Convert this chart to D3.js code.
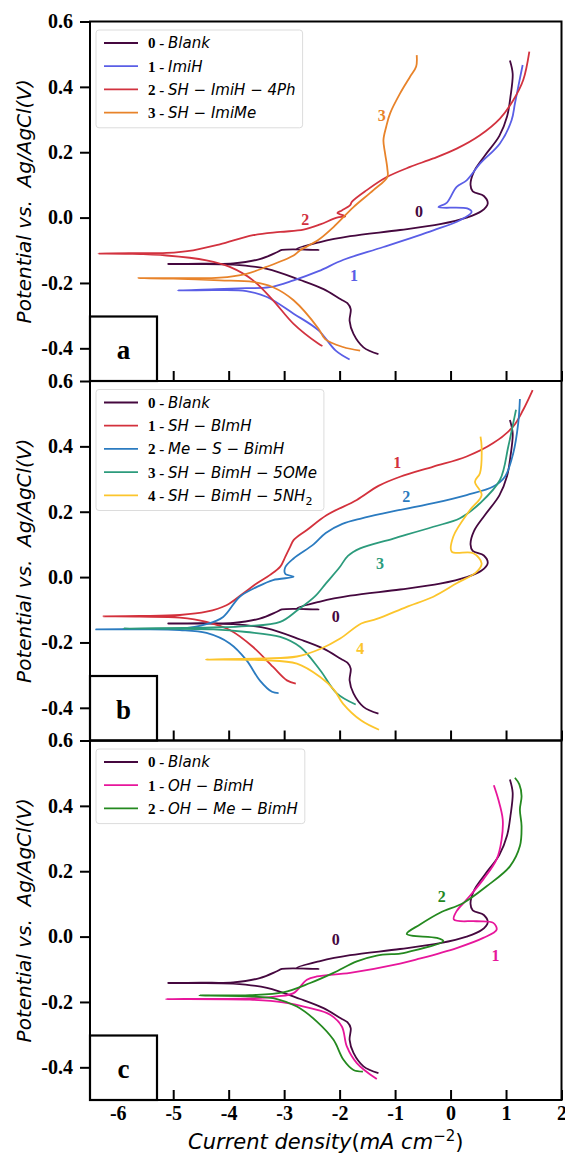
<!DOCTYPE html>
<html>
<head>
<meta charset="utf-8">
<script src="https://cdn.jsdelivr.net/npm/d3@7"></script>
<style>
  body { margin: 0; background: #fff; }
  svg { display: block; }
</style>
</head>
<body>
<script>
// axis ticks
const xTicks = [-6, -5, -4, -3, -2, -1, 0, 1, 2];
const yTicks = [-0.4, -0.2, 0, 0.2, 0.4, 0.6];

// blank curve (same in all three panels), [current density, potential]
const blankCurve = [
  [-1.30,-0.418],[-1.57,-0.397],[-1.75,-0.356],[-1.82,-0.316],[-1.80,-0.280],[-1.86,-0.262],
  [-1.98,-0.250],[-2.29,-0.219],[-2.71,-0.191],[-3.31,-0.157],[-3.92,-0.144],[-4.60,-0.142],
  [-5.09,-0.142],[-4.50,-0.141],[-3.92,-0.140],[-3.44,-0.127],[-3.13,-0.106],[-3.04,-0.099],
  [-2.38,-0.099],[-2.77,-0.096],[-2.35,-0.075],[-1.81,-0.057],[-0.91,-0.038],[-0.19,-0.020],
  [0.29,0.000],[0.56,0.020],[0.67,0.043],[0.60,0.066],[0.40,0.080],[0.36,0.100],[0.42,0.140],
  [0.62,0.190],[0.88,0.250],[1.02,0.310],[1.08,0.370],[1.12,0.440],[1.07,0.481]
];

// panel a
const imiHCurve = [
  [-1.82,-0.434],[-2.07,-0.407],[-2.38,-0.345],[-2.83,-0.294],[-3.31,-0.243],[-3.68,-0.225],
  [-4.22,-0.222],[-4.92,-0.223],[-4.22,-0.219],[-3.68,-0.216],[-3.26,-0.213],[-2.83,-0.192],
  [-2.38,-0.164],[-1.93,-0.129],[-1.21,-0.090],[-0.31,-0.039],[0.17,-0.008],[0.38,0.017],
  [0.30,0.028],[-0.22,0.032],[-0.07,0.045],[0.11,0.094],[0.29,0.114],[0.53,0.165],[0.89,0.227],
  [1.10,0.298],[1.16,0.349],[1.22,0.400],[1.30,0.467]
];
const shImiH4PhCurve = [
  [-2.31,-0.393],[-2.38,-0.386],[-2.83,-0.325],[-3.20,-0.253],[-3.56,-0.192],[-3.98,-0.151],
  [-4.40,-0.131],[-5.12,-0.116],[-5.80,-0.111],[-6.35,-0.110],[-5.80,-0.109],[-5.12,-0.108],
  [-4.64,-0.100],[-4.16,-0.082],[-3.56,-0.054],[-3.07,-0.044],[-2.65,-0.037],[-2.35,-0.021],
  [-2.05,0.000],[-1.90,0.004],[-2.04,0.014],[-1.96,0.022],[-1.81,0.038],[-1.78,0.048],
  [-1.51,0.084],[-1.15,0.124],[-0.73,0.155],[-0.31,0.181],[0.11,0.211],[0.53,0.252],
  [0.89,0.303],[1.13,0.359],[1.31,0.421],[1.42,0.508]
];
const shImiMeCurve = [
  [-1.63,-0.407],[-1.94,-0.396],[-2.26,-0.372],[-2.38,-0.340],[-2.83,-0.253],[-3.20,-0.213],
  [-3.56,-0.197],[-4.16,-0.192],[-5.00,-0.187],[-5.63,-0.185],[-5.00,-0.185],[-4.16,-0.184],
  [-3.68,-0.172],[-3.32,-0.151],[-2.83,-0.116],[-2.71,-0.100],[-2.38,-0.068],[-2.11,-0.029],
  [-1.75,0.032],[-1.39,0.084],[-1.14,0.124],[-1.14,0.150],[-1.18,0.196],[-1.21,0.237],
  [-1.16,0.278],[-1.09,0.319],[-0.91,0.380],[-0.73,0.431],[-0.62,0.462],[-0.61,0.497]
];

// panel b
const shBImHCurve = [
  [-2.79,-0.326],[-2.95,-0.316],[-3.20,-0.275],[-3.56,-0.214],[-3.98,-0.162],[-4.40,-0.137],
  [-4.88,-0.124],[-5.60,-0.121],[-6.26,-0.120],[-5.60,-0.119],[-4.88,-0.116],[-4.40,-0.106],
  [-4.04,-0.086],[-3.74,-0.050],[-3.49,-0.019],[-3.26,0.006],[-3.07,0.032],[-2.98,0.062],
  [-2.89,0.093],[-2.83,0.113],[-2.59,0.144],[-2.23,0.190],[-1.69,0.236],[-1.30,0.279],
  [-0.91,0.307],[-0.31,0.338],[0.29,0.369],[0.77,0.410],[1.13,0.461],[1.31,0.512],[1.48,0.572]
];
const meSBimHCurve = [
  [-3.10,-0.355],[-3.22,-0.351],[-3.44,-0.316],[-3.68,-0.254],[-3.98,-0.203],[-4.40,-0.171],
  [-4.88,-0.162],[-5.60,-0.160],[-6.39,-0.160],[-5.60,-0.159],[-4.88,-0.158],[-4.40,-0.144],
  [-4.10,-0.122],[-3.80,-0.060],[-3.49,-0.030],[-3.20,-0.009],[-2.83,0.001],[-2.98,0.010],
  [-2.98,0.030],[-2.83,0.057],[-2.47,0.100],[-2.25,0.135],[-1.95,0.163],[-1.60,0.180],
  [-1.21,0.195],[-0.31,0.226],[0.29,0.251],[0.77,0.277],[0.98,0.307],[1.13,0.379],
  [1.22,0.471],[1.25,0.545]
];
const shBimH5OMeCurve = [
  [-1.71,-0.390],[-2.05,-0.356],[-2.35,-0.285],[-2.71,-0.214],[-3.07,-0.183],[-3.68,-0.168],
  [-4.28,-0.160],[-5.90,-0.157],[-4.28,-0.154],[-3.68,-0.150],[-3.07,-0.137],[-2.75,-0.100],
  [-2.45,-0.060],[-2.25,-0.020],[-2.00,0.030],[-1.85,0.065],[-1.63,0.088],[-1.03,0.118],
  [-0.31,0.154],[0.17,0.180],[0.53,0.226],[0.89,0.297],[1.04,0.399],[1.13,0.471],[1.18,0.512]
];
const shBimH5NH2Curve = [
  [-1.29,-0.467],[-1.61,-0.439],[-1.94,-0.387],[-2.10,-0.345],[-2.35,-0.306],[-2.77,-0.265],
  [-3.38,-0.254],[-4.41,-0.252],[-3.38,-0.249],[-2.77,-0.243],[-2.35,-0.220],[-1.99,-0.188],
  [-1.61,-0.142],[-1.33,-0.128],[-0.79,-0.091],[-0.31,-0.060],[0.11,-0.019],[0.47,0.016],
  [0.56,0.042],[0.41,0.073],[0.02,0.078],[0.05,0.124],[0.35,0.205],[0.56,0.251],[0.44,0.292],
  [0.53,0.318],[0.56,0.399],[0.54,0.430]
];

// panel c
const ohBimHCurve = [
  [-1.33,-0.436],[-1.69,-0.387],[-1.87,-0.336],[-1.96,-0.275],[-2.17,-0.239],[-2.53,-0.219],
  [-3.02,-0.201],[-3.62,-0.193],[-5.13,-0.191],[-3.62,-0.189],[-3.13,-0.183],[-2.83,-0.173],
  [-2.59,-0.132],[-2.41,-0.122],[-1.81,-0.111],[-0.91,-0.083],[-0.61,-0.070],[0.11,-0.035],
  [0.59,-0.004],[0.83,0.021],[0.77,0.042],[0.47,0.047],[0.06,0.052],[0.11,0.078],[0.29,0.113],
  [0.59,0.175],[0.83,0.236],[0.92,0.297],[0.94,0.359],[0.86,0.420],[0.78,0.463]
];
const ohMeBimHCurve = [
  [-1.58,-0.413],[-1.75,-0.408],[-1.93,-0.377],[-2.11,-0.316],[-2.41,-0.260],[-2.77,-0.214],
  [-3.13,-0.191],[-3.62,-0.183],[-4.53,-0.180],[-3.62,-0.179],[-3.02,-0.171],[-2.53,-0.142],
  [-2.11,-0.111],[-1.69,-0.076],[-1.33,-0.058],[-0.91,-0.052],[-0.79,-0.048],[-0.13,-0.014],
  [-0.25,-0.004],[-0.79,0.008],[-0.55,0.037],[-0.19,0.073],[0.23,0.103],[0.65,0.154],
  [1.07,0.215],[1.25,0.277],[1.28,0.338],[1.25,0.389],[1.28,0.430],[1.24,0.466],[1.16,0.486]
];

// legend names ("_2" = subscript)
const panelANames = ["Blank", "ImiH", "SH − ImiH − 4Ph", "SH − ImiMe"];
const panelBNames = ["Blank", "SH − BImH", "Me − S − BimH", "SH − BimH − 5OMe", "SH − BimH − 5NH_2"];
const panelCNames = ["Blank", "OH − BimH", "OH − Me − BimH"];

// curve number annotations, in data units
const panelANotes = [[-1.24, 0.313], [-0.57, 0.020], [-2.62, -0.006], [-1.74, -0.177]];
const panelANoteText = ["3", "0", "2", "1"];
const panelBNotes = [[-0.96, 0.350], [-0.80, 0.248], [-1.27, 0.042], [-2.07, -0.119], [-1.63, -0.219]];
const panelBNoteText = ["1", "2", "3", "0", "4"];
const panelCNotes = [[-2.07, -0.009], [-0.16, 0.124], [0.81, -0.058]];
const panelCNoteText = ["0", "2", "1"];

const panels = [
  { letter: "a", names: panelANames,
    curves: [blankCurve, imiHCurve, shImiH4PhCurve, shImiMeCurve],
    colors: ["#45083f", "#5a5ee6", "#d2323f", "#e8832a"],
    notes: panelANotes, noteText: panelANoteText },
  { letter: "b", names: panelBNames,
    curves: [blankCurve, shBImHCurve, meSBimHCurve, shBimH5OMeCurve, shBimH5NH2Curve],
    colors: ["#45083f", "#d3313c", "#2b7bc0", "#2c9b7c", "#fcc52c"],
    notes: panelBNotes, noteText: panelBNoteText },
  { letter: "c", names: panelCNames,
    curves: [blankCurve, ohBimHCurve, ohMeBimHCurve],
    colors: ["#45083f", "#e7169b", "#24891f"],
    notes: panelCNotes, noteText: panelCNoteText },
];

const W = 565, H = 1154;
const left = 90, right = 561.5, top0 = 21.5, ph = 359.5;
const serif = "'Liberation Serif', 'Times New Roman', serif";
const sans = "'DejaVu Sans', sans-serif";

const svg = d3.select("body").append("svg").attr("width", W).attr("height", H);

const x = d3.scaleLinear().domain([-6.5, 2]).range([left, right]);

// annotation colour = colour of the series with that number
function noteColor(p, t) {
  return p.colors[+t];
}

panels.forEach((p, i) => {
  const t = top0 + i * ph;
  const y = d3.scaleLinear().domain([-0.5, 0.6]).range([t + ph, t]);
  const g = svg.append("g");

  const line = d3.line()
    .x((d) => x(d[0]))
    .y((d) => y(d[1]))
    .curve(d3.curveCatmullRom.alpha(0.5));

  p.curves.forEach((c, k) => {
    g.append("path")
      .datum(c)
      .attr("d", line)
      .attr("fill", "none")
      .attr("stroke", p.colors[k])
      .attr("stroke-width", 1.8)
      .attr("stroke-linejoin", "round");
  });

  // curve numbers
  g.selectAll(".note")
    .data(p.notes)
    .enter()
    .append("text")
    .attr("class", "note")
    .attr("x", (d) => x(d[0]))
    .attr("y", (d) => y(d[1]))
    .attr("dy", "0.35em")
    .attr("text-anchor", "middle")
    .attr("font-family", serif)
    .attr("font-weight", "bold")
    .attr("font-size", 16)
    .attr("fill", (d, k) => noteColor(p, p.noteText[k]))
    .text((d, k) => p.noteText[k]);

  // y axis
  const ya = g.append("g")
    .attr("transform", `translate(${left},0)`)
    .call(d3.axisLeft(y).tickValues(yTicks).tickSize(10).tickPadding(7)
      .tickFormat((d) => d.toFixed(1)));
  ya.select(".domain").remove();
  ya.selectAll("line").attr("stroke-width", 2);
  ya.selectAll("text")
    .attr("font-family", serif)
    .attr("font-weight", "bold")
    .attr("font-size", 20)
    .attr("fill", "#000");

  // x axis, ticks inward
  const xa = g.append("g")
    .attr("transform", `translate(0,${t + ph})`)
    .call(d3.axisBottom(x).tickValues(xTicks).tickSize(-10).tickPadding(6)
      .tickFormat((d) => String(d)));
  xa.select(".domain").remove();
  xa.selectAll("line").attr("stroke-width", 2);
  if (i < panels.length - 1) {
    xa.selectAll("text").remove();
  } else {
    xa.selectAll("text")
      .attr("font-family", serif)
      .attr("font-weight", "bold")
      .attr("font-size", 20)
      .attr("fill", "#000");
  }

  // frame
  g.append("rect")
    .attr("x", left).attr("y", t)
    .attr("width", right - left).attr("height", ph)
    .attr("fill", "none").attr("stroke", "#000").attr("stroke-width", 2);

  // panel letter box
  g.append("rect")
    .attr("x", left).attr("y", t + ph - 64.5)
    .attr("width", 67).attr("height", 64.5)
    .attr("fill", "#fff").attr("stroke", "#000").attr("stroke-width", 2.2);
  g.append("text")
    .attr("x", left + 33.5).attr("y", t + ph - 22)
    .attr("text-anchor", "middle")
    .attr("font-family", serif)
    .attr("font-weight", "bold")
    .attr("font-size", 27)
    .text(p.letter);

  // legend
  const lg = g.append("g");
  const boxX = 96, boxY = t + 8.5, rowH = 23.2;
  const box = lg.append("rect")
    .attr("x", boxX).attr("y", boxY)
    .attr("rx", 3).attr("ry", 3)
    .attr("height", p.names.length * rowH + 5)
    .attr("fill", "#fff").attr("fill-opacity", 0.85)
    .attr("stroke", "#dcdcdc").attr("stroke-width", 1);
  let maxRight = 0;
  p.names.forEach((name, k) => {
    const ry = boxY + 13 + k * rowH;
    lg.append("line")
      .attr("x1", 104).attr("x2", 138)
      .attr("y1", ry).attr("y2", ry)
      .attr("stroke", p.colors[k]).attr("stroke-width", 1.8);
    const tx = lg.append("text")
      .attr("x", 148).attr("y", ry).attr("dy", "0.36em")
      .attr("font-size", 15)
      .style("white-space", "pre");
    tx.append("tspan")
      .attr("font-family", serif).attr("font-weight", "bold")
      .text(k + " - ");
    const parts = name.split("_");
    tx.append("tspan")
      .attr("font-family", sans).attr("font-style", "italic")
      .text(parts[0]);
    if (parts[1]) {
      tx.append("tspan")
        .attr("font-family", sans)
        .attr("font-size", 11)
        .attr("dy", 4)
        .text(parts[1]);
    }
    const bb = tx.node().getBBox();
    maxRight = Math.max(maxRight, bb.x + bb.width);
  });
  box.attr("width", maxRight + 7 - boxX);

  // y label
  svg.append("text")
    .attr("transform", `translate(24,${t + ph / 2}) rotate(-90)`)
    .attr("text-anchor", "middle")
    .attr("dy", "0.35em")
    .attr("font-family", sans)
    .attr("font-style", "italic")
    .attr("font-size", 20)
    .style("white-space", "pre")
    .text("Potential vs.  Ag/AgCl(V)");
});

// x label
const xl = svg.append("text")
  .attr("x", (left + right) / 2)
  .attr("y", 1149)
  .attr("text-anchor", "middle")
  .attr("font-family", sans)
  .attr("font-size", 21)
  .style("white-space", "pre");
xl.append("tspan").attr("font-style", "italic").text("Current density");
xl.append("tspan").text("(");
xl.append("tspan").attr("font-style", "italic").text("mA cm");
xl.append("tspan").attr("font-size", 15).attr("dy", -8).text("−2");
xl.append("tspan").attr("dy", 8).text(")");
</script>
</body>
</html>
